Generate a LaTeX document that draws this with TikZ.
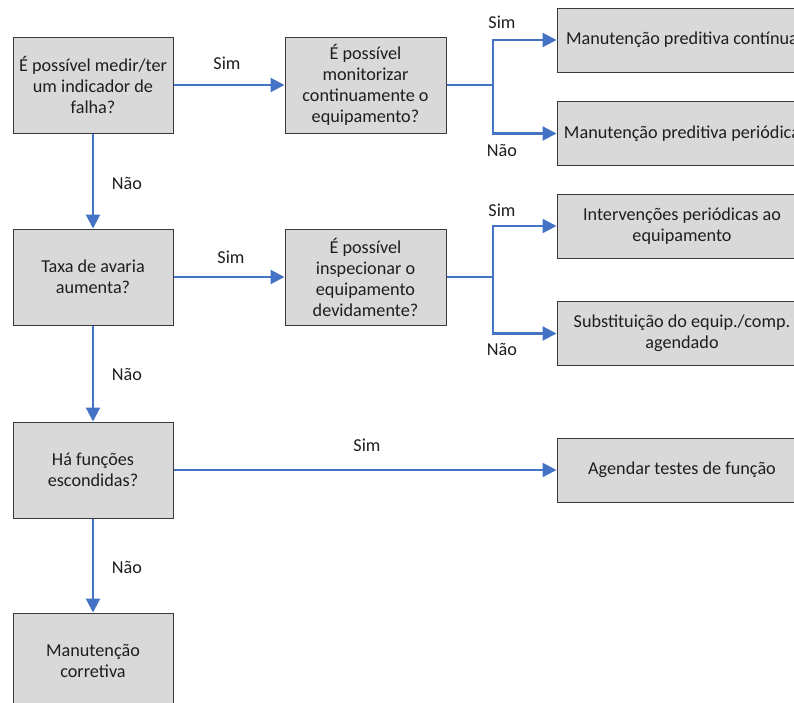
\documentclass[tikz,border=0pt]{standalone}
\usepackage{fontspec}
\setmainfont{Carlito}
\usetikzlibrary{arrows.meta,calc}
\definecolor{boxfill}{HTML}{D9D9D9}
\definecolor{boxline}{HTML}{3A3A3A}
\definecolor{flow}{HTML}{4472C4}
\definecolor{ink}{HTML}{1E1E1E}
\begin{document}
\begin{tikzpicture}[x=1pt,y=-1pt,
  every node/.style={text=ink,font=\fontsize{18.2}{21}\selectfont},
  box/.style={draw=boxline,line width=1pt,fill=boxfill,align=center,inner sep=2pt},
  qbox/.style={box,minimum width=160pt,minimum height=96pt},
  obox/.style={box,minimum width=250pt,minimum height=64pt},
  flowline/.style={draw=flow,line width=2.2pt},
  flowarrow/.style={flowline,-{Triangle[length=14pt,width=14pt]}},
  lbl/.style={inner sep=0pt}]
\useasboundingbox (0,0) rectangle (794,702);
\clip (0,0) rectangle (794,702);

% decision boxes (left column)
\node[qbox] (q1) at (93,85) {É possível medir/ter\\um indicador de\\falha?};
\node[qbox] (q2) at (93,277) {Taxa de avaria\\aumenta?};
\node[qbox] (q3) at (93,470) {Há funções\\escondidas?};
\node[qbox] (q4) at (93,661) {Manutenção\\corretiva};

% second-level questions
\node[qbox,minimum width=161pt] (m1) at (365.5,85) {É possível\\monitorizar\\continuamente o\\equipamento?};
\node[qbox,minimum width=161pt] (m2) at (365.5,277) {É possível\\inspecionar o\\equipamento\\devidamente?};

% outcomes
\node[obox] (o1) at (682,40) {Manutenção preditiva contínua};
\node[obox] (o2) at (682,133.5) {Manutenção preditiva periódica};
\node[obox] (o3) at (682,226) {Intervenções periódicas ao\\equipamento};
\node[obox] (o4) at (682,333.5) {Substituição do equip./comp.\\agendado};
\node[obox] (o5) at (682,470) {Agendar testes de função};

% split points
\coordinate (s1) at (493,85);
\coordinate (s2) at (493,277);

% "Não" chain
\draw[flowarrow] (q1.south) -- (q2.north);
\draw[flowarrow] (q2.south) -- (q3.north);
\draw[flowarrow] (q3.south) -- (q4.north);

% "Sim" links
\draw[flowarrow] (q1.east) -- (m1.west);
\draw[flowarrow] (q2.east) -- (m2.west);
\draw[flowarrow] (q3.east) -- (o5.west);

% branches
\draw[flowline] (m1.east) -- (s1);
\draw[flowarrow] (s1) |- (o1.west);
\draw[flowarrow] (s1) |- (o2.west);
\draw[flowline] (m2.east) -- (s2);
\draw[flowarrow] (s2) |- (o3.west);
\draw[flowarrow] (s2) |- (o4.west);

% labels
\node[lbl] (l1) at (127,183) {Não};
\node[lbl] (l2) at (127,374) {Não};
\node[lbl] (l3) at (127,567) {Não};
\node[lbl] (l4) at (227,63) {Sim};
\node[lbl] (l5) at (231,257) {Sim};
\node[lbl] (l6) at (367,445) {Sim};
\node[lbl] (l7) at (502,22) {Sim};
\node[lbl] (l8) at (502,150) {Não};
\node[lbl] (l9) at (502,210) {Sim};
\node[lbl] (l10) at (502,349) {Não};
\end{tikzpicture}
\end{document}
